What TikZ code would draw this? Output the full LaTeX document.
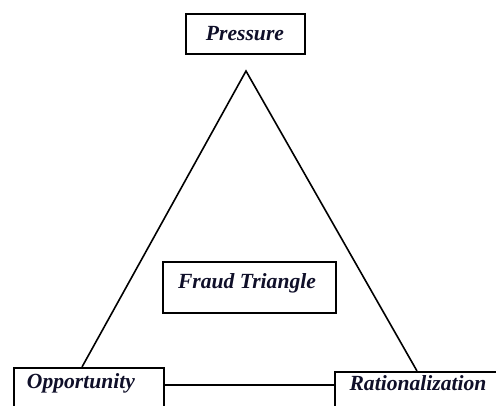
\documentclass[tikz,border=0pt]{standalone}
\usepackage{fontspec}
\setmainfont{Liberation Serif}
\definecolor{txtc}{rgb}{0.06,0.06,0.16}
\begin{document}
\begin{tikzpicture}[x=1pt,y=1pt,
  box/.style={draw=black,line width=1.5pt,inner sep=0pt,anchor=north west},
  lbl/.style={font=\fontsize{21.6}{24}\selectfont\bfseries\itshape,text=txtc,inner sep=0pt},
  edge/.style={draw=black,line width=1.6pt}]
\useasboundingbox (0,0) rectangle (496,-405);
\clip (0,0) rectangle (496,-405);
% boxes
\node[box,minimum width=119pt,minimum height=40pt] (pres) at (185,-13) {};
\node[lbl] (presT) at (245,-34) {Pressure};
\node[box,minimum width=173pt,minimum height=51pt] (fraud) at (162,-261) {};
\node[lbl] (fraudT) at (247,-283) {Fraud Triangle};
\node[box,minimum width=150pt,minimum height=60pt] (opp) at (13,-367) {};
\node[lbl] (oppT) at (81,-383) {Opportunity};
\node[box,minimum width=180pt,minimum height=60pt] (rat) at (334,-371) {};
\node[lbl] (ratT) at (418,-383) {Rationalization};
% triangle
\coordinate (apex) at (246,-71);
\coordinate (lft) at (82,-367);
\coordinate (rgt) at (417,-371);
\draw[edge] (lft) -- (apex) -- (rgt);
\draw[edge] (opp.east |- 0,-385) -- (rat.west |- 0,-385);
\end{tikzpicture}
\end{document}
